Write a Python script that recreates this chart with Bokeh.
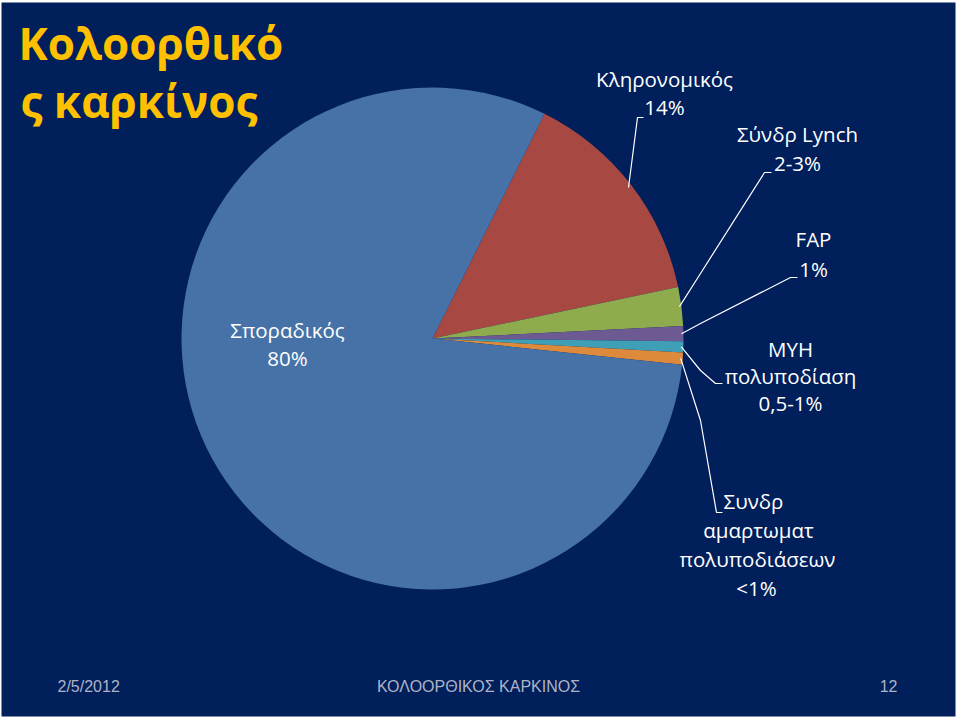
import math
from bokeh.plotting import figure
from bokeh.models import Range1d, ColumnDataSource
from bokeh.core.properties import value
from bokeh.embed import file_html
from bokeh.resources import INLINE

# ---- data ----
categories = ["Κληρονομικός", "Σύνδρ Lynch", "FAP", "MYH πολυποδίαση",
              "Συνδρ αμαρτωματ πολυποδιάσεων", "Σποραδικός"]
values = [14.35, 2.5, 0.97, 0.7, 0.78, 80.7]
colors = ["#A84842", "#8EAB4E", "#6E5A92", "#3E9FB6", "#DD8A3C", "#4672A8"]
label_lines = [
    ["Κληρονομικός", "14%"],
    ["Σύνδρ Lynch", "2-3%"],
    ["FAP", "1%"],
    ["MYH", "πολυποδίαση", "0,5-1%"],
    ["Συνδρ", "αμαρτωματ", "πολυποδιάσεων", "<1%"],
    ["Σποραδικός", "80%"],
]
title_lines = ["Κολοορθικό", "ς καρκίνος"]
footer_texts = ["2/5/2012", "ΚΟΛΟΟΡΘΙΚΟΣ ΚΑΡΚΙΝΟΣ", "12"]

BG = "#001F5B"
W, H = 960, 720

p = figure(width=W, height=H, output_backend="svg", toolbar_location=None,
           x_range=Range1d(0, 960), y_range=Range1d(0, 720),
           x_axis_type=None, y_axis_type=None, min_border=0)
p.outline_line_color = None
p.background_fill_color = "white"
p.border_fill_color = "white"
p.grid.visible = False


def Y(y):  # reference pixel row -> data y
    return 720 - y


# slide background
p.quad(left=1, right=955, top=Y(2), bottom=Y(716), fill_color=BG, line_color=None)

# ---- pie ----
cx, cy, r = 432, Y(338), 251
start0 = math.radians(63.5)
total = sum(values)
starts, ends, mids = [], [], []
a = start0
for v in values:
    b = a - v / total * 2 * math.pi
    starts.append(b)
    ends.append(a)
    mids.append((a + b) / 2)
    a = b
src = ColumnDataSource(dict(start=starts, end=ends, color=colors, cat=categories))
p.wedge(x=cx, y=cy, radius=r, start_angle="start", end_angle="end",
        fill_color="color", line_color=None, source=src)

# ---- leader lines (from slice rim to label anchors) ----
elbows = [
    [(628, 187), (637, 117), (643, 117)],
    [(700, 273), (764, 172), (771, 172)],
    [(700, 323), (790, 277), (797, 277)],
    [(700, 370), (715, 383), (722, 383)],
    [(700, 420), (716, 512), (722, 512)],
]
for i, pts in enumerate(elbows):
    m = mids[i]
    xs = [cx + (r - 2) * math.cos(m)] + [q[0] for q in pts]
    ys = [cy + (r - 2) * math.sin(m)] + [Y(q[1]) for q in pts]
    if i == 0:
        xs, ys = xs[1:], ys[1:]
    p.line(xs, ys, line_color="white", line_width=1.2)

# ---- labels ----
LBL = 20.5
label_pos = [  # center x, first baseline y, line spacing
    (664, 88, 28),
    (797, 143, 29),
    (813, 248, 30),
    (790, 358, 27),
    (757, 510, 29),
    (287, 339, 28),
]
custom_x = {4: [753, 758, 757, 756]}
for i, lines in enumerate(label_lines):
    x0, y0, dy = label_pos[i]
    xs = custom_x.get(i, [x0] * len(lines))
    ys = [Y(y0 + k * dy - 0.47 * LBL) for k in range(len(lines))]
    p.text(x=xs, y=ys, text=lines, text_color="white",
           text_font=value("Open Sans"), text_font_size=f"{LBL}px",
           text_align="center", text_baseline="alphabetic")

# ---- title ----
TS = 44
p.text(x=[18, 20], y=[Y(62 - 0.44 * TS), Y(120 - 0.44 * TS)], text=title_lines,
       text_color="#FFC000", text_font=value("Open Sans"), text_font_size=f"{TS}px",
       text_font_style="bold", text_align="left", text_baseline="alphabetic")

# ---- footer ----
FS = 16
p.text(x=[57, 478, 897], y=[Y(692 - 0.38 * FS)] * 3, text=footer_texts,
       text_color="#AEB4C6", text_font=value("Liberation Sans"),
       text_font_size=f"{FS}px", text_align=["left", "center", "right"],
       text_baseline="alphabetic")

open("out.html", "w").write(file_html(p, INLINE))
